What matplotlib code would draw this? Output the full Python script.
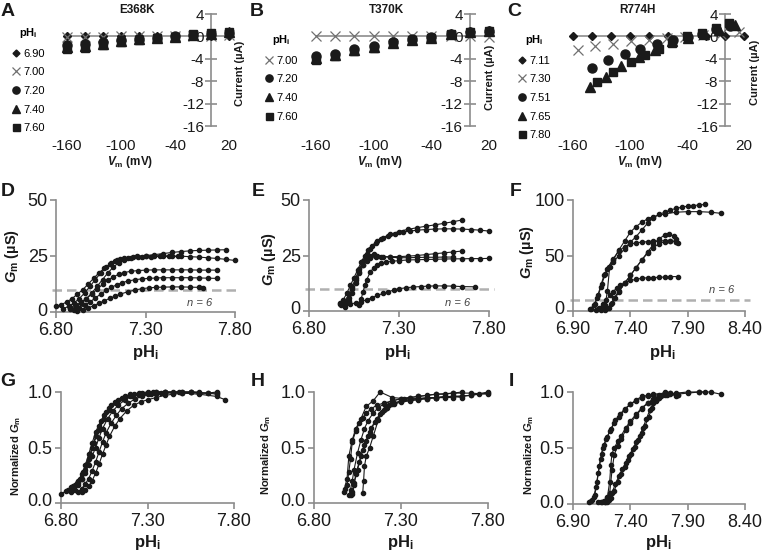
import matplotlib
matplotlib.use("Agg")
import matplotlib.pyplot as plt
from matplotlib.transforms import ScaledTranslation

plt.rcParams['font.family'] = ['Liberation Sans', 'DejaVu Sans']
plt.rcParams['mathtext.fontset'] = 'custom'
plt.rcParams['mathtext.rm'] = 'Liberation Sans:bold'
plt.rcParams['mathtext.it'] = 'Liberation Sans:italic:bold'
plt.rcParams['mathtext.bf'] = 'Liberation Sans:bold'

# ---------------- data: I-V curves (A-C) ----------------
IV_V = [-160, -140, -120, -100, -80, -60, -40, -20, 0, 20]

A_LABELS = ['6.90', '7.00', '7.20', '7.40', '7.60']
A_I = [
    [0.0, 0.0, 0.0, 0.0, 0.0, 0.0, 0.0, 0.0, 0.0, 0.0],
    [-0.1, -0.1, -0.1, 0.0, 0.0, 0.0, 0.0, 0.1, 0.1, 0.2],
    [-1.5, -1.3, -1.0, -0.6, -0.4, -0.2, 0.0, 0.3, 0.4, 0.6],
    [-1.9, -1.7, -1.3, -0.8, -0.5, -0.3, -0.1, 0.3, 0.5, 0.7],
    [-2.25, -2.0, -1.5, -0.95, -0.6, -0.35, -0.1, 0.4, 0.55, 0.75],
]

B_LABELS = ['7.00', '7.20', '7.40', '7.60']
B_I = [
    [0.0, 0.0, 0.0, 0.0, 0.0, 0.0, 0.0, 0.0, 0.0, -0.1],
    [-3.5, -3.1, -2.3, -1.7, -1.0, -0.55, -0.15, 0.4, 0.7, 0.9],
    [-3.9, -3.3, -2.5, -1.9, -1.1, -0.6, -0.2, 0.4, 0.7, 1.0],
    [-4.2, -3.5, -2.55, -2.0, -1.2, -0.65, -0.2, 0.45, 0.75, 1.0],
]

C_LABELS = ['7.11', '7.30', '7.51', '7.65', '7.80']
C_V = [
    [-160, -140, -120, -100, -80, -60, -40, -20, 0, 20],
    [-155, -137, -118, -99, -80, -61, -42, -23, -4, 15],
    [-140, -123, -105, -89, -72, -55, -39, -24, -9, 5],
    [-142, -125, -109, -91, -74, -56, -39, -22, -6, 10],
    [-135, -118, -99, -84, -70, -56, -40, -24, -10, 4],
]
C_I = [
    [0.0, 0.0, 0.0, 0.0, 0.0, 0.0, 0.0, 0.1, 0.0, 0.0],
    [-2.4, -1.8, -1.35, -0.9, -0.6, -0.3, -0.1, 0.2, 0.4, 0.8],
    [-5.65, -4.15, -3.15, -2.2, -1.35, -0.6, -0.1, 0.5, 1.3, 1.8],
    [-9.0, -7.25, -5.35, -3.6, -2.4, -0.9, -0.2, 0.5, 1.2, 2.0],
    [-8.2, -6.4, -4.6, -3.3, -2.25, -1.1, 0.0, 0.6, 1.5, 2.4],
]

# ---------------- data: Gm vs pHi (D-F) ----------------
D_PH = [
    [6.80, 6.83, 6.86, 6.89, 6.92, 6.95, 6.98, 7.01, 7.04, 7.07, 7.10, 7.13, 7.16, 7.20, 7.25, 7.30, 7.35, 7.40, 7.45, 7.50, 7.55, 7.60, 7.65, 7.70, 7.75],
    [6.88, 6.91, 6.94, 6.97, 7.00, 7.03, 7.06, 7.09, 7.12, 7.15, 7.18, 7.22, 7.26, 7.30, 7.35, 7.40, 7.45, 7.50, 7.55, 7.60, 7.65, 7.70, 7.75, 7.80],
    [6.88, 6.91, 6.94, 6.97, 7.00, 7.03, 7.06, 7.09, 7.12, 7.15, 7.18, 7.22, 7.26, 7.30, 7.35, 7.40, 7.45, 7.50, 7.55, 7.60, 7.65, 7.70],
    [6.90, 6.93, 6.96, 6.99, 7.02, 7.05, 7.08, 7.11, 7.14, 7.17, 7.20, 7.24, 7.28, 7.32, 7.36, 7.40, 7.45, 7.50, 7.55, 7.60, 7.65, 7.70],
    [6.92, 6.95, 6.98, 7.01, 7.04, 7.07, 7.10, 7.13, 7.16, 7.20, 7.24, 7.28, 7.32, 7.36, 7.40, 7.45, 7.50, 7.55, 7.60, 7.62],
    [6.84, 6.87, 6.90, 6.93, 6.96, 6.99, 7.02, 7.05, 7.08, 7.11, 7.14, 7.18, 7.23, 7.28, 7.33, 7.38, 7.43, 7.48],
]
D_GM = [
    [2.5, 3.3, 4.5, 6.0, 8.0, 10.0, 12.5, 15.0, 17.5, 19.5, 21.3, 22.7, 23.6, 24.3, 24.8, 25.2, 25.6, 26.1, 26.6, 27.0, 27.3, 27.5, 27.6, 27.7, 27.8],
    [1.5, 2.5, 4.0, 6.0, 8.5, 11.5, 14.5, 17.5, 20.0, 22.0, 23.3, 24.2, 24.7, 25.0, 25.1, 25.1, 25.0, 24.9, 24.7, 24.5, 24.2, 23.9, 23.5, 23.0],
    [2.0, 3.0, 4.3, 6.0, 8.0, 10.2, 12.3, 14.2, 15.7, 16.8, 17.6, 18.2, 18.5, 18.7, 18.8, 18.8, 18.8, 18.8, 18.8, 18.7, 18.7, 18.7],
    [1.0, 1.8, 3.0, 4.5, 6.3, 8.0, 9.6, 11.0, 12.2, 13.1, 13.8, 14.4, 14.8, 15.0, 15.2, 15.3, 15.3, 15.3, 15.3, 15.2, 15.1, 15.0],
    [0.5, 1.0, 1.8, 2.8, 3.9, 5.0, 6.1, 7.1, 8.0, 9.0, 9.8, 10.4, 10.8, 11.0, 11.1, 11.2, 11.2, 11.1, 11.0, 10.9],
    [1.5, 2.5, 4.0, 6.0, 8.5, 11.5, 14.5, 17.5, 20.0, 22.0, 23.2, 24.0, 24.4, 24.6, 24.7, 24.8, 24.8, 24.8],
]

E_PH = [
    [6.97, 6.99, 7.01, 7.03, 7.05, 7.07, 7.09, 7.11, 7.13, 7.15, 7.18, 7.21, 7.25, 7.30, 7.35, 7.40, 7.45, 7.50, 7.55, 7.60, 7.65],
    [6.98, 7.00, 7.02, 7.04, 7.06, 7.08, 7.10, 7.12, 7.14, 7.17, 7.20, 7.24, 7.28, 7.32, 7.36, 7.40, 7.45, 7.50, 7.55, 7.60, 7.65, 7.70, 7.75, 7.80],
    [7.00, 7.02, 7.04, 7.06, 7.08, 7.10, 7.12, 7.14, 7.17, 7.20, 7.25, 7.30, 7.35, 7.40, 7.45, 7.50, 7.55, 7.60, 7.65],
    [7.00, 7.02, 7.04, 7.06, 7.08, 7.10, 7.12, 7.14, 7.16, 7.18, 7.21, 7.25, 7.30, 7.35, 7.40, 7.45, 7.50, 7.55, 7.60],
    [7.08, 7.09, 7.10, 7.11, 7.12, 7.14, 7.16, 7.18, 7.20, 7.23, 7.26, 7.30, 7.35, 7.40, 7.45, 7.50, 7.55, 7.60, 7.65, 7.70, 7.75, 7.80],
    [6.97, 7.00, 7.03, 7.06, 7.09, 7.12, 7.15, 7.18, 7.21, 7.24, 7.27, 7.30, 7.34, 7.38, 7.42, 7.46, 7.50, 7.55, 7.60, 7.65, 7.72],
]
E_GM = [
    [3.0, 5.0, 8.0, 11.5, 15.0, 18.5, 22.0, 25.0, 27.5, 29.5, 31.5, 33.0, 34.5, 35.8, 36.8, 37.5, 38.2, 38.8, 39.5, 40.2, 41.0],
    [2.5, 4.5, 7.5, 11.0, 15.0, 19.0, 22.5, 25.5, 28.0, 30.5, 32.3, 33.8, 34.8, 35.5, 36.0, 36.4, 36.7, 36.9, 37.0, 37.0, 36.9, 36.7, 36.4, 36.0],
    [3.0, 6.0, 10.0, 14.0, 17.5, 20.5, 22.5, 23.7, 24.2, 24.4, 24.5, 24.5, 24.7, 25.0, 25.4, 25.8, 26.2, 26.6, 27.0],
    [2.0, 4.5, 8.0, 12.5, 17.0, 20.5, 23.5, 25.0, 25.5, 25.0, 24.5, 24.2, 24.0, 24.0, 24.1, 24.2, 24.2, 24.3, 24.3],
    [2.5, 5.5, 8.5, 11.5, 14.0, 17.5, 19.5, 20.8, 21.5, 22.0, 22.4, 22.7, 23.0, 23.1, 23.2, 23.3, 23.4, 23.5, 23.5, 23.6, 23.6, 23.7],
    [3.5, 3.0, 3.2, 3.6, 4.2, 5.0, 6.0, 7.0, 7.9, 8.7, 9.4, 10.0, 10.5, 10.8, 11.0, 11.2, 11.3, 11.3, 11.2, 11.0, 10.9],
]

F_PH = [
    [7.05, 7.08, 7.11, 7.14, 7.17, 7.20, 7.25, 7.30, 7.35, 7.40, 7.45, 7.50, 7.55, 7.60, 7.70, 7.80, 7.90, 8.00, 8.10, 8.19],
    [7.12, 7.15, 7.18, 7.20, 7.22, 7.25, 7.30, 7.35, 7.40, 7.45, 7.50, 7.55, 7.60, 7.65, 7.70, 7.75, 7.80, 7.85, 7.90, 7.95, 8.00, 8.05],
    [7.06, 7.09, 7.12, 7.15, 7.18, 7.21, 7.25, 7.30, 7.35, 7.40, 7.45, 7.50, 7.55, 7.60, 7.65, 7.70, 7.75, 7.80, 7.82],
    [7.14, 7.17, 7.20, 7.23, 7.26, 7.30, 7.35, 7.40, 7.45, 7.50, 7.55, 7.60, 7.65, 7.70, 7.74, 7.78, 7.80],
    [7.10, 7.13, 7.16, 7.19, 7.22, 7.25, 7.28, 7.31, 7.35, 7.40, 7.45, 7.50, 7.55, 7.60, 7.65, 7.70, 7.75, 7.82],
    [7.18, 7.21, 7.24, 7.27, 7.30, 7.35, 7.40, 7.45, 7.50, 7.55, 7.60, 7.65, 7.70, 7.75, 7.80],
]
F_GM = [
    [2.0, 5.0, 12.0, 22.0, 32.0, 38.0, 46.0, 55.0, 63.0, 71.0, 76.0, 80.0, 83.0, 85.0, 87.5, 89.0, 89.5, 89.5, 89.0, 88.0],
    [2.0, 3.0, 5.0, 18.0, 40.0, 44.0, 50.0, 56.0, 62.0, 67.0, 73.0, 79.0, 84.0, 87.0, 89.0, 91.0, 92.5, 93.5, 94.5, 95.0, 95.5, 96.0],
    [2.0, 6.0, 14.0, 24.0, 33.0, 40.0, 47.0, 54.0, 58.0, 60.0, 61.5, 62.0, 62.5, 63.0, 63.0, 63.5, 63.5, 62.5, 61.0],
    [1.0, 2.0, 3.0, 6.0, 12.0, 18.0, 25.0, 32.0, 39.0, 46.0, 53.0, 60.0, 65.0, 68.5, 69.0, 67.5, 65.0],
    [1.0, 3.0, 6.0, 10.0, 14.0, 17.5, 20.5, 23.0, 25.5, 27.5, 28.5, 29.5, 30.0, 30.0, 30.5, 30.5, 31.0, 31.0],
    [1.0, 3.0, 7.0, 12.0, 17.0, 25.0, 32.0, 39.0, 46.0, 52.0, 57.0, 60.5, 62.5, 63.0, 62.5],
]

# ---------------- data: normalized Gm vs pHi (G-I) ----------------
G_PH = [
    [6.80, 6.83, 6.86, 6.89, 6.91, 6.93, 6.95, 6.97, 6.99, 7.02, 7.05, 7.08, 7.12, 7.16, 7.20, 7.25, 7.30, 7.35, 7.40, 7.45, 7.50, 7.55, 7.60, 7.65, 7.70],
    [6.86, 6.88, 6.90, 6.92, 6.94, 6.96, 6.98, 7.00, 7.02, 7.05, 7.08, 7.11, 7.15, 7.20, 7.25, 7.30, 7.35, 7.40, 7.50, 7.60, 7.70, 7.75],
    [6.88, 6.90, 6.92, 6.94, 6.96, 6.98, 7.00, 7.02, 7.04, 7.07, 7.10, 7.13, 7.17, 7.21, 7.25, 7.30, 7.35, 7.40, 7.50, 7.60, 7.70],
    [6.90, 6.92, 6.94, 6.96, 6.98, 7.00, 7.02, 7.04, 7.06, 7.09, 7.12, 7.15, 7.19, 7.23, 7.27, 7.32, 7.38, 7.45, 7.55, 7.65, 7.70],
    [6.92, 6.94, 6.96, 6.98, 7.00, 7.02, 7.04, 7.06, 7.08, 7.11, 7.14, 7.18, 7.22, 7.26, 7.30, 7.35, 7.40, 7.45, 7.50, 7.55, 7.60],
    [6.84, 6.87, 6.90, 6.92, 6.94, 6.96, 6.98, 7.00, 7.03, 7.06, 7.09, 7.13, 7.17, 7.22, 7.27, 7.33, 7.40, 7.48],
]
G_NORM = [
    [0.08, 0.11, 0.14, 0.18, 0.22, 0.28, 0.35, 0.44, 0.54, 0.66, 0.76, 0.84, 0.90, 0.94, 0.96, 0.97, 0.98, 0.98, 0.99, 0.99, 1.0, 1.0, 0.99, 0.99, 1.0],
    [0.10, 0.12, 0.16, 0.22, 0.30, 0.40, 0.50, 0.60, 0.69, 0.79, 0.86, 0.91, 0.95, 0.98, 0.99, 1.0, 1.0, 1.0, 0.99, 0.98, 0.96, 0.93],
    [0.16, 0.18, 0.22, 0.27, 0.34, 0.42, 0.50, 0.59, 0.67, 0.76, 0.83, 0.88, 0.93, 0.96, 0.98, 0.99, 1.0, 1.0, 1.0, 0.99, 0.99],
    [0.10, 0.13, 0.17, 0.22, 0.29, 0.37, 0.46, 0.55, 0.63, 0.72, 0.79, 0.85, 0.90, 0.94, 0.96, 0.98, 0.99, 1.0, 1.0, 0.99, 0.98],
    [0.10, 0.12, 0.15, 0.20, 0.27, 0.35, 0.44, 0.52, 0.60, 0.69, 0.76, 0.83, 0.88, 0.91, 0.93, 0.95, 0.97, 0.98, 0.99, 1.0, 1.0],
    [0.12, 0.15, 0.20, 0.26, 0.34, 0.44, 0.54, 0.64, 0.74, 0.82, 0.88, 0.93, 0.96, 0.98, 0.99, 1.0, 1.0, 1.0],
]

H_PH = [
    [6.97, 6.99, 7.00, 7.02, 7.04, 7.07, 7.10, 7.14, 7.18, 7.25, 7.32, 7.40, 7.50, 7.60],
    [6.98, 6.99, 7.00, 7.01, 7.02, 7.04, 7.06, 7.08, 7.10, 7.13, 7.16, 7.20, 7.25, 7.30, 7.35, 7.40, 7.45, 7.50, 7.55, 7.60, 7.65],
    [7.00, 7.01, 7.02, 7.03, 7.05, 7.07, 7.09, 7.11, 7.14, 7.17, 7.20, 7.25, 7.30, 7.35, 7.40, 7.50, 7.60, 7.70, 7.80],
    [7.01, 7.02, 7.03, 7.05, 7.07, 7.09, 7.11, 7.13, 7.16, 7.19, 7.22, 7.26, 7.30, 7.35, 7.40, 7.45, 7.50, 7.60, 7.70, 7.80],
    [7.02, 7.03, 7.04, 7.06, 7.08, 7.10, 7.12, 7.15, 7.18, 7.21, 7.25, 7.30, 7.35, 7.40, 7.45, 7.50, 7.55, 7.60, 7.65],
    [7.08, 7.085, 7.09, 7.10, 7.12, 7.14, 7.17, 7.20, 7.23, 7.26, 7.30, 7.35, 7.40, 7.45, 7.50, 7.55, 7.60, 7.65, 7.70, 7.75, 7.80],
]
H_NORM = [
    [0.10, 0.22, 0.42, 0.57, 0.67, 0.76, 0.87, 0.92, 1.0, 0.95, 0.94, 0.94, 0.95, 0.95],
    [0.13, 0.16, 0.28, 0.40, 0.55, 0.65, 0.72, 0.77, 0.81, 0.85, 0.88, 0.90, 0.92, 0.94, 0.95, 0.96, 0.97, 0.98, 0.98, 0.99, 1.0],
    [0.07, 0.12, 0.20, 0.30, 0.45, 0.57, 0.67, 0.74, 0.81, 0.86, 0.89, 0.92, 0.94, 0.95, 0.96, 0.98, 0.99, 0.99, 0.98],
    [0.07, 0.10, 0.18, 0.30, 0.42, 0.52, 0.60, 0.68, 0.76, 0.82, 0.86, 0.89, 0.91, 0.92, 0.93, 0.94, 0.95, 0.96, 0.97, 1.0],
    [0.08, 0.16, 0.26, 0.37, 0.48, 0.56, 0.64, 0.73, 0.80, 0.85, 0.89, 0.92, 0.93, 0.94, 0.95, 0.95, 0.96, 0.96, 0.95],
    [0.09, 0.20, 0.33, 0.42, 0.50, 0.60, 0.75, 0.84, 0.88, 0.90, 0.92, 0.93, 0.94, 0.94, 0.95, 0.95, 0.96, 0.96, 0.97, 0.98, 0.99],
]

I_PH = [
    [7.04, 7.07, 7.09, 7.11, 7.13, 7.15, 7.17, 7.20, 7.23, 7.27, 7.31, 7.35, 7.40, 7.45, 7.50, 7.55, 7.60, 7.70, 7.80, 7.90, 8.00, 8.10, 8.19],
    [7.06, 7.08, 7.10, 7.12, 7.14, 7.16, 7.19, 7.22, 7.26, 7.30, 7.35, 7.40, 7.45, 7.50, 7.55, 7.60, 7.70, 7.82],
    [7.12, 7.15, 7.18, 7.20, 7.22, 7.23, 7.24, 7.26, 7.29, 7.32, 7.36, 7.40, 7.45, 7.50, 7.55, 7.60, 7.65, 7.70, 7.75, 7.82],
    [7.14, 7.17, 7.20, 7.22, 7.24, 7.26, 7.29, 7.32, 7.36, 7.40, 7.45, 7.50, 7.55, 7.60, 7.65, 7.70, 7.75, 7.80],
    [7.18, 7.21, 7.24, 7.27, 7.30, 7.33, 7.36, 7.39, 7.42, 7.45, 7.48, 7.51, 7.54, 7.57, 7.60, 7.63, 7.67, 7.72, 7.80, 7.90, 8.00, 8.05],
    [7.20, 7.23, 7.26, 7.29, 7.32, 7.35, 7.38, 7.41, 7.44, 7.47, 7.50, 7.53, 7.56, 7.59, 7.62, 7.66, 7.70, 7.75, 7.80],
]
I_NORM = [
    [0.02, 0.04, 0.08, 0.20, 0.34, 0.45, 0.53, 0.60, 0.67, 0.75, 0.80, 0.85, 0.89, 0.92, 0.95, 0.96, 0.97, 0.98, 0.99, 1.0, 1.0, 1.0, 0.98],
    [0.03, 0.06, 0.15, 0.28, 0.40, 0.50, 0.58, 0.65, 0.72, 0.78, 0.84, 0.89, 0.93, 0.96, 0.97, 0.98, 0.99, 0.97],
    [0.02, 0.02, 0.02, 0.06, 0.20, 0.35, 0.45, 0.50, 0.56, 0.61, 0.68, 0.74, 0.80, 0.86, 0.90, 0.93, 0.95, 0.97, 0.98, 0.97],
    [0.02, 0.03, 0.05, 0.10, 0.30, 0.44, 0.52, 0.58, 0.66, 0.72, 0.79, 0.85, 0.90, 0.94, 0.97, 1.0, 0.99, 0.96],
    [0.02, 0.04, 0.10, 0.18, 0.25, 0.31, 0.37, 0.43, 0.49, 0.55, 0.61, 0.68, 0.76, 0.84, 0.90, 0.94, 0.96, 0.97, 0.98, 0.99, 1.0, 1.0],
    [0.02, 0.05, 0.12, 0.20, 0.27, 0.33, 0.39, 0.45, 0.51, 0.57, 0.63, 0.70, 0.78, 0.86, 0.92, 0.96, 0.98, 0.99, 0.98],
]

THRESHOLD = 10

# ---------------- layout helpers (pixels) ----------------
W, H = 764, 554
AXIS_GRAY = '#8c8c8c'
INK = '#1a1a1a'

fig = plt.figure(figsize=(W / 100, H / 100), dpi=100)


def box(l, r, t, b):
    return [l / W, 1 - b / H, (r - l) / W, (b - t) / H]


def ftext(x, y, s, **kw):
    fig.text(x / W, 1 - y / H, s, **kw)


MARKERS = {'D': dict(marker='D', ms=4.4, color=INK),
           'x': dict(marker='x', ms=6.5, color='#707070', mew=0.9),
           'o': dict(marker='o', ms=6.5, color=INK),
           '^': dict(marker='^', ms=7.0, color=INK),
           's': dict(marker='s', ms=6.3, color=INK)}


def iv_panel(rect, vs, currents, labels, kinds, title, title_x, leg_xy, cur_xy, vm_xy):
    ax = fig.add_axes(box(*rect))
    ax.patch.set_alpha(0)
    ax.set_xlim(-160, 20)
    ax.set_ylim(-16, 4)
    for s in ['top', 'right', 'bottom']:
        ax.spines[s].set_visible(False)
    ax.spines['left'].set_position(('data', 0))
    ax.spines['left'].set_color(AXIS_GRAY)
    ax.spines['left'].set_linewidth(1.2)
    ax.axhline(0, color=AXIS_GRAY, lw=1.2, zorder=1)
    ax.set_xticks([-160, -100, -40, 20])
    ax.set_xticklabels(['-160', '-100', '-40', '20'])
    ax.set_yticks([4, 0, -4, -8, -12, -16])
    ax.set_yticklabels(['4', '0', '-4', '-8', '-12', '-16'])
    ax.tick_params(axis='x', length=0, pad=9.5, labelsize=11, labelcolor=INK)
    ax.tick_params(axis='y', direction='inout', length=9, width=1.2, color=AXIS_GRAY,
                   labelsize=11, pad=0.5, labelcolor=INK)
    handles = []
    for v, cur, lab, k in zip(vs, currents, labels, kinds):
        h, = ax.plot(v, cur, ls='none', label=lab, clip_on=False, zorder=3, **MARKERS[k])
        handles.append(h)
    ax.text(title_x, 1 + 4 / 112, title, transform=ax.transAxes, ha='center', va='center',
            fontsize=8.5, fontweight='bold', color=INK)
    ax.legend(handles=handles, loc='upper left',
              bbox_to_anchor=(leg_xy[0] / W, 1 - leg_xy[1] / H), bbox_transform=fig.transFigure,
              frameon=False, fontsize=8, title=r'pH$_\mathrm{i}$',
              title_fontproperties={'size': 8, 'weight': 'bold'},
              handlelength=0.8, handletextpad=0.25, labelspacing=0.78,
              borderpad=0, borderaxespad=0, markerscale=0.8)
    ftext(cur_xy[0], cur_xy[1], u'Current (\u00b5A)', rotation=90, ha='center', va='center',
          fontsize=8, fontweight='bold', color=INK)
    ftext(vm_xy[0], vm_xy[1], r'$V_\mathrm{m}$ (mV)', ha='center', va='center',
          fontsize=8.5, fontweight='bold', color=INK)
    return ax


def curve_panel(rect, phs, vals, xlim, xticks, ylim, yticks, yfmt, ylab, ylab_xy, ylab_size,
                xlab_xy, n_xy=None):
    ax = fig.add_axes(box(*rect))
    ax.patch.set_alpha(0)
    ax.set_xlim(*xlim)
    ax.set_ylim(*ylim)
    for s in ['top', 'right']:
        ax.spines[s].set_visible(False)
    for s in ['left', 'bottom']:
        ax.spines[s].set_color(AXIS_GRAY)
        ax.spines[s].set_linewidth(1.2)
    ax.set_xticks(xticks)
    ax.set_xticklabels(['%.2f' % t for t in xticks])
    ax.set_yticks(yticks)
    ax.set_yticklabels([yfmt % t for t in yticks])
    ax.tick_params(direction='out', length=4, width=1.2, color=AXIS_GRAY, labelsize=13,
                   pad=2, labelcolor=INK)
    ax.tick_params(axis='x', pad=3)
    # nudge the bottom y label up so it does not sit on the first x label
    lowest = ax.get_yticklabels()[0]
    lowest.set_transform(lowest.get_transform() + ScaledTranslation(0, 3 / 100, fig.dpi_scale_trans))
    if n_xy is not None:
        ax.axhline(THRESHOLD, xmin=-0.02, xmax=1.03, color='#b0b0b0', lw=1.8,
                   dashes=(3.8, 2.0), clip_on=False, zorder=1)
        ftext(n_xy[0], n_xy[1], 'n = 6', ha='center', va='center', fontsize=8,
              style='italic', color='#444444')
    for x, y in zip(phs, vals):
        ax.plot(x, y, color=INK, lw=0.8, marker='o', ms=3.0, clip_on=False, zorder=3)
    ftext(ylab_xy[0], ylab_xy[1], ylab, rotation=90, ha='center', va='center',
          fontsize=ylab_size, fontweight='bold', color=INK)
    ftext(xlab_xy[0], xlab_xy[1], r'pH$_\mathrm{i}$', ha='center', va='center',
          fontsize=12, fontweight='bold', color=INK)
    return ax


# ---------------- row 1 ----------------
iv_panel((67, 229, 14, 126), [IV_V] * 5, A_I, A_LABELS, ['D', 'x', 'o', '^', 's'],
         'E368K', 0.43, (12, 26), (240, 73), (130, 162))
iv_panel((316, 489, 14, 126), [IV_V] * 4, B_I, B_LABELS, ['x', 'o', '^', 's'],
         'T370K', 0.41, (265, 33), (490, 77), (380, 162))
iv_panel((573, 744, 14, 126), C_V, C_I, C_LABELS, ['D', 'x', 'o', '^', 's'],
         'R774H', 0.374, (518, 33), (755, 72), (640, 162))

# ---------------- row 2 ----------------
GM_LABEL = u'$G_\\mathrm{m}$ (\u00b5S)'
curve_panel((56, 235, 200, 312), D_PH, D_GM, (6.80, 7.80), [6.80, 7.30, 7.80], (0, 50),
            [0, 25, 50], '%d', GM_LABEL, (12, 256), 10.5, (145, 352), (200, 303))
curve_panel((309, 489, 200, 311), E_PH, E_GM, (6.80, 7.80), [6.80, 7.30, 7.80], (0, 50),
            [0, 25, 50], '%d', GM_LABEL, (269, 259), 10.5, (397, 352), (458, 303))
curve_panel((573, 745, 200, 311), F_PH, F_GM, (6.90, 8.40), [6.90, 7.40, 7.90, 8.40], (0, 100),
            [0, 50, 100], '%d', GM_LABEL, (527, 252), 10.5, (662, 352), (722, 290))

# ---------------- row 3 ----------------
NORM_LABEL = r'Normalized $G_\mathrm{m}$'
curve_panel((61, 234, 392, 503), G_PH, G_NORM, (6.80, 7.80), [6.80, 7.30, 7.80], (0, 1),
            [0.0, 0.5, 1.0], '%.1f', NORM_LABEL, (16, 456), 8, (147, 543))
curve_panel((314, 488, 392, 503), H_PH, H_NORM, (6.80, 7.80), [6.80, 7.30, 7.80], (0, 1),
            [0.0, 0.5, 1.0], '%.1f', NORM_LABEL, (266, 455), 8, (400, 543))
curve_panel((573, 745, 392, 504), I_PH, I_NORM, (6.90, 8.40), [6.90, 7.40, 7.90, 8.40], (0, 1),
            [0.0, 0.5, 1.0], '%.1f', NORM_LABEL, (529, 455), 8, (658, 543))

# panel letters
for letter, (x, y) in zip('ABCDEFGHI', [(8, 12), (257, 12), (514, 12), (8, 192), (258, 191),
                                        (516, 191), (8, 382), (258, 382), (511, 382)]):
    ftext(x, y, letter, ha='center', va='center', fontsize=14, fontweight='bold', color=INK)

fig.savefig('out.png', dpi=100)
